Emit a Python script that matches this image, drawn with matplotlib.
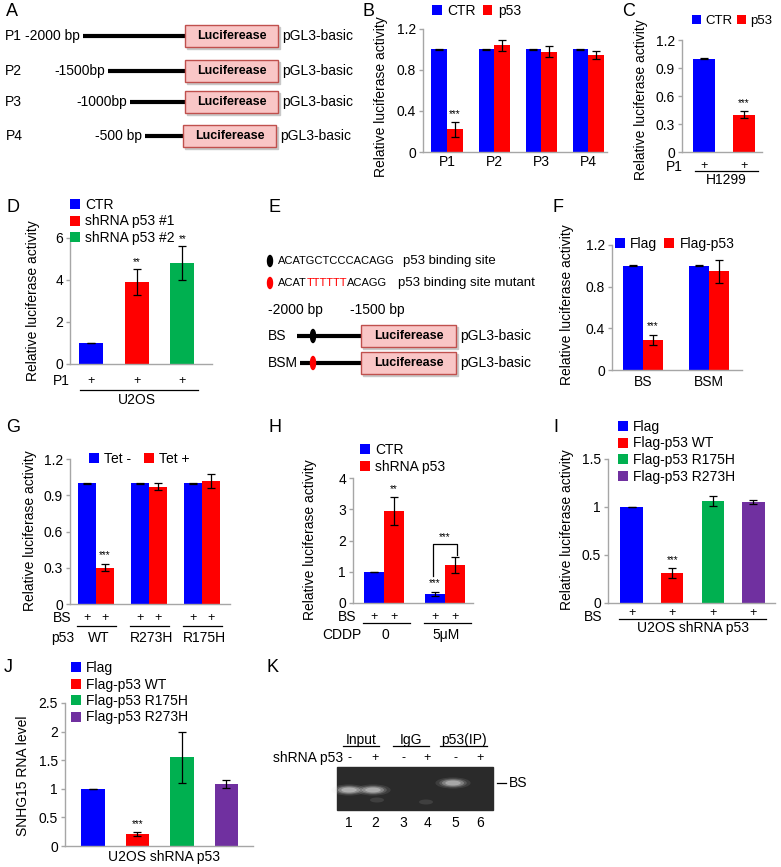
import numpy as np
import matplotlib.pyplot as plt
from matplotlib import transforms
from matplotlib.patches import Rectangle, Ellipse

plt.rcParams['font.family'] = ['Liberation Sans', 'DejaVu Sans']

# ---- data ----
A_rows = ['P1', 'P2', 'P3', 'P4']
A_bp = ['-2000 bp', '-1500bp', '-1000bp', '-500 bp']

B_groups = ['P1', 'P2', 'P3', 'P4']
B_ctr = [1.0, 1.0, 1.0, 1.0]
B_ctr_err = [0.004, 0.004, 0.004, 0.004]
B_p53 = [0.22, 1.04, 0.98, 0.95]
B_p53_err = [0.07, 0.05, 0.05, 0.04]

C_vals = [1.0, 0.40]
C_err = [0.004, 0.04]

D_labels = ['CTR', 'shRNA p53 #1', 'shRNA p53 #2']
D_vals = [1.0, 3.9, 4.8]
D_err = [0.02, 0.6, 0.8]

E_seq = 'ACATGCTCCCACAGG'
E_mut = ['ACAT', 'TTTTTT', 'ACAGG']

F_groups = ['BS', 'BSM']
F_flag = [1.0, 1.0]
F_flag_err = [0.004, 0.004]
F_p53 = [0.29, 0.95]
F_p53_err = [0.05, 0.11]

G_groups = ['WT', 'R273H', 'R175H']
G_minus = [1.0, 1.0, 1.0]
G_minus_err = [0.004, 0.004, 0.004]
G_plus = [0.30, 0.97, 1.02]
G_plus_err = [0.03, 0.03, 0.06]

H_groups = ['0', '5\u03bcM']
H_ctr = [1.0, 0.29]
H_ctr_err = [0.005, 0.06]
H_sh = [2.95, 1.22]
H_sh_err = [0.45, 0.26]

I_labels = ['Flag', 'Flag-p53 WT', 'Flag-p53 R175H', 'Flag-p53 R273H']
I_vals = [1.0, 0.31, 1.06, 1.05]
I_err = [0.004, 0.05, 0.05, 0.02]

J_labels = ['Flag', 'Flag-p53 WT', 'Flag-p53 R175H', 'Flag-p53 R273H']
J_vals = [1.0, 0.21, 1.55, 1.09]
J_err = [0.005, 0.04, 0.44, 0.07]

K_groups = ['Input', 'IgG', 'p53(IP)']
K_sh = ['-', '+', '-', '+', '-', '+']
K_lanes = ['1', '2', '3', '4', '5', '6']

BLUE, RED, GREEN, PURPLE = '#0000ff', '#ff0000', '#00b050', '#7030a0'
GRAY = '#a6a6a6'
EK = dict(ecolor='black', elinewidth=0.9, capsize=2.6, capthick=0.9)
FS = 10

W, H = 781, 867
fig = plt.figure(figsize=(W / 100, H / 100), dpi=100)
ov = fig.add_axes([0, 0, 1, 1])
ov.set_xlim(0, W)
ov.set_ylim(H, 0)
ov.axis('off')


def panel(x0, y0, x1, y1, xlim, ylim, yticks, ylabels):
    ax = fig.add_axes([x0 / W, 1 - y1 / H, (x1 - x0) / W, (y1 - y0) / H])
    ax.set_xlim(*xlim)
    ax.set_ylim(*ylim)
    ax.set_yticks(yticks)
    ax.set_yticklabels(ylabels)
    ax.set_xticks([])
    for s in ('top', 'right'):
        ax.spines[s].set_visible(False)
    for s in ('left', 'bottom'):
        ax.spines[s].set_color(GRAY)
        ax.spines[s].set_linewidth(1.0)
    ax.tick_params(axis='y', colors=GRAY, labelcolor='black', length=3,
                   width=1.0, labelsize=FS, pad=2)
    ax.patch.set_alpha(0)
    return ax


def bt(ax):
    # x in data units of ax, y in figure pixels
    return transforms.blended_transform_factory(ax.transData, ov.transData)


def row(ax, xs, y, labels, fs=9):
    for x, s in zip(xs, labels):
        ax.text(x, y, s, transform=bt(ax), ha='center', va='center', fontsize=fs)


def uline(ax, xa, xb, y):
    ax.plot([xa, xb], [y, y], transform=bt(ax), color='black', lw=0.9, clip_on=False)


def stars(ax, x, top, s='***', fs=7):
    ax.text(x, top, s, ha='center', va='bottom', fontsize=fs)


def legend(ax, handles, labels, x, y, ncol=1, **kw):
    opts = dict(loc='upper left', bbox_to_anchor=(x, y),
                bbox_transform=ov.transData, ncol=ncol, frameon=False,
                fontsize=FS, handlelength=0.7, handleheight=0.7,
                handletextpad=0.4, columnspacing=0.5, borderpad=0,
                borderaxespad=0, labelspacing=0.18)
    opts.update(kw)
    ax.legend(handles, labels, **opts)


def ylab(x, y, s):
    ov.text(x, y, s, rotation=90, ha='center', va='center', fontsize=FS)


def letter(x, y, s):
    ov.text(x, y, s, ha='left', va='center', fontsize=13)


def luc_box(x, y, w=93, h=22):
    ov.add_patch(Rectangle((x + 2, y - h / 2 + 2), w, h, color='#c8c8c8', zorder=1))
    ov.add_patch(Rectangle((x, y - h / 2), w, h, fc='#f9c6c6', ec='#c0504d', lw=1.0, zorder=2))
    ov.text(x + w / 2, y, 'Luciferease', ha='center', va='center',
            fontsize=9, fontweight='bold', zorder=3)
    ov.text(x + w + 4, y, 'pGL3-basic', ha='left', va='center', fontsize=FS, zorder=3)


# ---- A ----
letter(6, 12, 'A')
A_y = [36, 71, 102, 136]
A_line0 = [83, 108, 130, 145]
A_box0 = [185, 185, 185, 183]
for name, bp, y, l0, b0 in zip(A_rows, A_bp, A_y, A_line0, A_box0):
    ov.text(13 if name != 'P4' else 14, y, name, ha='center', va='center', fontsize=FS)
    ov.text(l0 - 3, y, bp, ha='right', va='center', fontsize=FS)
    ov.plot([l0, b0], [y, y], color='black', lw=3, solid_capstyle='butt')
    luc_box(b0, y)

# ---- B ----
letter(362, 12, 'B')
ax = panel(423, 29, 607, 152, (-0.51, 3.40), (0, 1.2), [0, 0.4, 0.8, 1.2],
           ['0', '0.4', '0.8', '1.2'])
w = 0.33
x = np.arange(len(B_groups))
r1 = ax.bar(x - w / 2, B_ctr, w, color=BLUE, yerr=B_ctr_err, error_kw=EK)
r2 = ax.bar(x + w / 2, B_p53, w, color=RED, yerr=B_p53_err, error_kw=EK)
stars(ax, x[0] + w / 2, B_p53[0] + B_p53_err[0] + 0.03)
row(ax, x, 162, B_groups, fs=FS)
legend(ax, [r1, r2], ['CTR', 'p53'], 432, 4, ncol=2)
ylab(381, 97, 'Relative luciferase activity')

# ---- C ----
letter(622, 12, 'C')
ax = panel(682, 40, 762, 152, (-0.55, 1.45), (0, 1.2), [0, 0.3, 0.6, 0.9, 1.2],
           ['0', '0.3', '0.6', '0.9', '1.2'])
x = np.arange(2)
r1 = ax.bar(x[:1], C_vals[:1], 0.55, color=BLUE, yerr=C_err[:1], error_kw=EK)
r2 = ax.bar(x[1:], C_vals[1:], 0.55, color=RED, yerr=C_err[1:], error_kw=EK)
stars(ax, x[1], C_vals[1] + C_err[1] + 0.03)
row(ax, x, 166, ['+', '+'])
uline(ax, -0.22, 1.35, 171)
ax.text(0.55, 180, 'H1299', transform=bt(ax), ha='center', va='center', fontsize=FS)
ov.text(674, 167, 'P1', ha='center', va='center', fontsize=FS)
legend(ax, [r1, r2], ['CTR', 'p53'], 692, 15, ncol=2, handletextpad=0.3,
       columnspacing=0.35, fontsize=9.5)
ylab(641, 100, 'Relative luciferase activity')

# ---- D ----
letter(6, 207, 'D')
ax = panel(70, 238, 212, 364, (-0.46, 2.65), (0, 6), [0, 2, 4, 6], ['0', '2', '4', '6'])
x = np.arange(3)
rs = [ax.bar(x[i], D_vals[i], 0.53, color=c, yerr=D_err[i], error_kw=EK)
      for i, c in enumerate([BLUE, RED, GREEN])]
for i in (1, 2):
    stars(ax, x[i], D_vals[i] + D_err[i] + 0.1, '**')
row(ax, x, 381, ['+', '+', '+'])
uline(ax, -0.24, 2.35, 390)
ax.text(1, 400, 'U2OS', transform=bt(ax), ha='center', va='center', fontsize=FS)
ov.text(61, 381, 'P1', ha='center', va='center', fontsize=FS)
legend(ax, rs, D_labels, 70, 198)
ylab(33, 301, 'Relative luciferase activity')

# ---- E ----
letter(268, 207, 'E')
ov.add_patch(Ellipse((270, 261), 5, 11, color='black'))
ov.text(278, 261, E_seq, ha='left', va='center', fontsize=8)
ov.text(403, 261, 'p53 binding site', ha='left', va='center', fontsize=9.5)
ov.add_patch(Ellipse((270, 283), 5, 11, color=RED))
t = ov.text(278, 283, E_mut[0], ha='left', va='center', fontsize=8)
t = ov.annotate(E_mut[1], xy=(1, 0), xycoords=t, va='bottom', ha='left', fontsize=8, color=RED)
ov.annotate(E_mut[2], xy=(1, 0), xycoords=t, va='bottom', ha='left', fontsize=8)
ov.text(398, 283, 'p53 binding site mutant', ha='left', va='center', fontsize=9.5)
ov.text(268, 310, '-2000 bp', ha='left', va='center', fontsize=FS)
ov.text(350, 310, '-1500 bp', ha='left', va='center', fontsize=FS)
for lab, y, c in [('BS', 336, 'black'), ('BSM', 363, RED)]:
    ov.text(268, y, lab, ha='left', va='center', fontsize=FS)
    ov.plot([297 if lab == 'BS' else 300, 361], [y, y], color='black', lw=3, solid_capstyle='butt')
    ov.add_patch(Ellipse((313, y), 5, 13, color=c, zorder=3))
    luc_box(361, y, w=95)

# ---- F ----
letter(553, 207, 'F')
ax = panel(612, 245, 742, 370, (-0.47, 1.5), (0, 1.2), [0, 0.4, 0.8, 1.2],
           ['0', '0.4', '0.8', '1.2'])
w = 0.3
x = np.arange(2)
r1 = ax.bar(x - w / 2, F_flag, w, color=BLUE, yerr=F_flag_err, error_kw=EK)
r2 = ax.bar(x + w / 2, F_p53, w, color=RED, yerr=F_p53_err, error_kw=EK)
stars(ax, x[0] + w / 2, F_p53[0] + F_p53_err[0] + 0.03)
row(ax, x, 382, F_groups, fs=FS)
legend(ax, [r1, r2], ['Flag', 'Flag-p53'], 615, 237, ncol=2)
ylab(567, 305, 'Relative luciferase activity')

# ---- G ----
letter(6, 428, 'G')
ax = panel(70, 459, 230, 604, (-0.49, 2.53), (0, 1.2), [0, 0.3, 0.6, 0.9, 1.2],
           ['0', '0.3', '0.6', '0.9', '1.2'])
w = 0.34
x = np.arange(3)
r1 = ax.bar(x - w / 2, G_minus, w, color=BLUE, yerr=G_minus_err, error_kw=EK)
r2 = ax.bar(x + w / 2, G_plus, w, color=RED, yerr=G_plus_err, error_kw=EK)
stars(ax, x[0] + w / 2, G_plus[0] + G_plus_err[0] + 0.03)
for xi in x:
    row(ax, [xi - w / 2, xi + w / 2], 618, ['+', '+'])
    uline(ax, xi - 0.35, xi + 0.38, 626)
row(ax, x + 0.05, 638, G_groups, fs=FS)
ov.text(62, 618, 'BS', ha='center', va='center', fontsize=FS)
ov.text(63, 638, 'p53', ha='center', va='center', fontsize=FS)
legend(ax, [r1, r2], ['Tet -', 'Tet +'], 89, 452, ncol=2, columnspacing=0.9)
ylab(30, 531, 'Relative luciferase activity')

# ---- H ----
letter(268, 427, 'H')
ax = panel(353, 478, 473, 603, (-0.51, 1.46), (0, 4), [0, 1, 2, 3, 4],
           ['0', '1', '2', '3', '4'])
w = 0.33
x = np.arange(2)
r1 = ax.bar(x - w / 2, H_ctr, w, color=BLUE, yerr=H_ctr_err, error_kw=EK)
r2 = ax.bar(x + w / 2, H_sh, w, color=RED, yerr=H_sh_err, error_kw=EK)
stars(ax, x[0] + w / 2, H_sh[0] + H_sh_err[0] + 0.08, '**')
stars(ax, x[1] - w / 2, H_ctr[1] + H_ctr_err[1] + 0.12)
bx0, bx1 = x[1] - w / 2 - 0.03, x[1] + w / 2 + 0.03
ax.plot([bx0, bx0, bx1, bx1], [0.88, 1.88, 1.88, 1.55], color='black', lw=0.9)
stars(ax, x[1], 1.95)
for xi in x:
    row(ax, [xi - w / 2, xi + w / 2], 617, ['+', '+'])
    uline(ax, xi - 0.35, xi + 0.42, 623)
row(ax, x + 0.02, 635, H_groups, fs=FS)
ov.text(347, 617, 'BS', ha='center', va='center', fontsize=FS)
ov.text(342, 635, 'CDDP', ha='center', va='center', fontsize=FS)
legend(ax, [r1, r2], ['CTR', 'shRNA p53'], 360, 443)
ylab(310, 540, 'Relative luciferase activity')

# ---- I ----
letter(553, 427, 'I')
ax = panel(608, 459, 775, 603, (-0.58, 3.53), (0, 1.5), [0, 0.5, 1, 1.5],
           ['0', '0.5', '1', '1.5'])
x = np.arange(4)
rs = [ax.bar(x[i], I_vals[i], 0.55, color=c, yerr=I_err[i], error_kw=EK)
      for i, c in enumerate([BLUE, RED, GREEN, PURPLE])]
stars(ax, x[1], I_vals[1] + I_err[1] + 0.03)
row(ax, x, 613, ['+'] * 4)
uline(ax, -0.3, 3.3, 619)
ax.text(1.5, 628, 'U2OS shRNA p53', transform=bt(ax), ha='center', va='center', fontsize=FS)
ov.text(593, 617, 'BS', ha='center', va='center', fontsize=FS)
legend(ax, rs, I_labels, 618, 420)
ylab(567, 530, 'Relative luciferase activity')

# ---- J ----
letter(4, 668, 'J')
ax = panel(65, 703, 253, 846, (-0.63, 3.6), (0, 2.5), [0, 0.5, 1, 1.5, 2, 2.5],
           ['0', '0.5', '1', '1.5', '2', '2.5'])
x = np.arange(4)
rs = [ax.bar(x[i], J_vals[i], 0.53, color=c, yerr=J_err[i], error_kw=EK)
      for i, c in enumerate([BLUE, RED, GREEN, PURPLE])]
stars(ax, x[1], J_vals[1] + J_err[1] + 0.04)
ax.text(1.6, 857, 'U2OS shRNA p53', transform=bt(ax), ha='center', va='center', fontsize=FS)
legend(ax, rs, J_labels, 71, 661)
ylab(23, 776, 'SNHG15 RNA level')

# ---- K ----
letter(266, 668, 'K')
K_x = [349, 375, 403, 427, 455, 480]
for g, (a, b) in zip(K_groups, [(343, 379), (393, 429), (440, 487)]):
    ov.text((a + b) / 2, 740, g, ha='center', va='center', fontsize=FS)
    ov.plot([a, b], [746, 746], color='black', lw=0.9)
ov.text(308, 758, 'shRNA p53', ha='center', va='center', fontsize=FS)
for xx, s, n in zip(K_x, K_sh, K_lanes):
    ov.text(xx, 758, s, ha='center', va='center', fontsize=9)
    ov.text(xx, 823, n, ha='center', va='center', fontsize=FS)
ov.add_patch(Rectangle((337, 767), 156, 43, color='#2a2a2a'))
for bx, by, br in [(349, 790, 1.0), (373, 790, 0.95), (453, 783, 0.9)]:
    for k, a in [(1.6, 0.12), (1.25, 0.2), (1.0, 0.35), (0.7, 0.5)]:
        ov.add_patch(Ellipse((bx, by), 22 * k, 7 * k, color='#d8d8d8',
                             alpha=a * br, lw=0))
for bx, by in [(377, 800), (426, 802)]:
    ov.add_patch(Ellipse((bx, by), 14, 5, color='#555555', alpha=0.5, lw=0))
ov.plot([497, 506], [783, 783], color='black', lw=0.9)
ov.text(509, 783, 'BS', ha='left', va='center', fontsize=FS)

fig.savefig('out.png', dpi=100)
